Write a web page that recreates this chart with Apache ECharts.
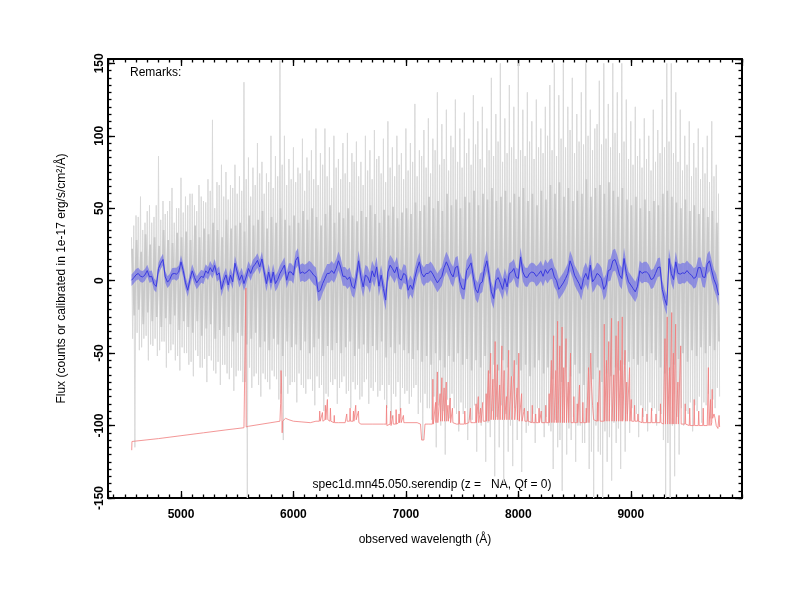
<!DOCTYPE html>
<html><head><meta charset="utf-8">
<script src="https://cdn.jsdelivr.net/npm/echarts@6/dist/echarts.min.js"></script>
<style>html,body{margin:0;background:#fff}#c{width:800px;height:600px}</style>
</head><body><div id="c"></div><script>
// smoothed flux (blue), 20 A grid from 4560 A
const waveStart = 4560, waveStep = 20;
const smoothFlux = [
0.3,2,4,5,3,2.6,4,7,2.6,3,-2.4,-4,8.4,12,14.6,2.6,-1,0.8,4.5,5,4.5,6,13,7,-1.5,-6.6,0.8,6.8,2.2,-1.5,0.8,3,2.2,6.8,5,9,6,10.5,3.8,5.4,-6,0,4,-3,3.8,-0.8,12,6,0.3,4,-2,2.6,8.4,5,9.5,11.4,14,9.5,15,6,-2,6,-1.5,6,
-2,0.8,5,7.7,10.7,0.3,6,6,3.8,14,16.4,5,6,5,6,7.7,6,3.8,2.6,-7.7,-6.6,-2,1.5,5,5,7,5,8.4,13.7,9.5,3,3,0.8,2.6,-3.8,-5.4,2.6,13.7,2.6,-4.3,3.8,2.6,-1.5,6.8,2.6,9.5,-3.8,3.8,-5.4,-13.4,6,10.7,8.4,5.4,9.5,1.5,0.3,5,3.8,-6.6,-3,-6,2.2,8.4,13,5,2.6,
5,5,6.8,4.5,1.5,-1.5,0.8,3,9,13,9.5,5,2.6,9,10,-0.8,-5.4,-6,7,9.5,12.3,2.6,-6,-8.4,-2,-0.8,8.4,13.7,3.8,-7.7,-12.3,0,2.2,-1.5,-6,1.5,-4.3,5,6,8.4,2.6,1.5,16.4,6,2.6,2.2,5,6,5.4,3,4.5,6.8,3,7.7,5,7.7,8.4,2.6,0,-6,-3.8,-1.5,1.5,5,13.7,9.5,3.8,
0.8,-2,-6,1.5,5,0.8,10.7,-0.8,1.5,5,3.8,1.5,-6,-3,7,7.7,13.7,14.6,10,3.8,1.5,15.3,5,-0.8,-3,-5.4,-7.7,-3.8,6.8,5,6,6,4.5,0.8,1.5,5,9,9.5,-6,-12.3,-17,15.3,5,0.8,13,5,4.5,5.4,5,7,5,3.8,1.5,2.6,9,9,2.6,2.2,11.4,13.7,6.8,0.8,-3,-10
];
// 1-sigma error per 200 A bin
const errBins = [4,4,4.5,4.5,5,5,5.5,6,6.5,6.5,7,7,6.5,6.5,7,7,7,6.5,7,7,7.5,7.5,7,6.5,7,7,7.5];
// raw flux (grey), 40 A grid: extreme, intermediate and core envelopes
const grayStart = 4560, grayStep = 40;
const grayHi = [30,45,58,40,52,44,86,55,48,64,50,71,
58,60,52,66,55,70,111,68,80,75,66,80,
72,137,85,78,95,82,74,100,86,152,100,84,
92,78,98,85,90,105,88,105,92,100,84,95,102,88,96,82,100,90,104,86,98,110,92,100,88,
105,95,122,90,104,112,98,130,108,118,100,125,105,116,98,128,110,120,105,140,115,150,112,135,120,
150,118,130,110,125,105,120,135,150,128,150,120,140,115,130,150,118,105,138,150,122,150,130,150,125,
110,120,98,112,100,118,104,125,150,150,130,118,100,110,95,105,92,100,110,80];
const grayLo = [-115,-48,-40,-55,-45,-52,-42,-60,-48,-55,-62,-50,
-58,-66,-52,-60,-70,-55,-64,-72,-58,-68,-76,-62,
-70,-150,-74,-64,-80,-68,-75,-66,-82,-110,-78,-70,
-84,-72,-78,-68,-86,-74,-90,-80,-72,-85,-70,-78,-88,-75,-82,-70,-85,-76,-80,-72,-88,-95,-80,-90,-78,
-85,-74,-92,-110,-88,-96,-115,-100,-120,-95,-88,-104,-92,-110,-96,-118,-100,-125,-108,-135,-115,-140,-118,-128,-110,
-132,-105,-98,-112,-95,-108,-100,-130,-115,-145,-120,-110,-125,-100,-112,-130,-150,-118,-150,-125,-138,-112,-130,-118,-105,
-96,-108,-94,-104,-90,-100,-92,-150,-150,-135,-120,-100,-92,-104,-90,-98,-86,-95,-88,-80];
const midHi = [38,44,35,48,40,52,42,46,55,40,50,47,
52,60,48,58,54,62,50,66,58,56,64,60,
62,70,58,66,74,60,68,64,72,80,66,70,
68,74,62,76,70,66,80,72,64,78,70,74,68,82,72,66,76,70,84,74,68,78,72,80,70,
76,82,72,86,78,74,90,80,84,76,92,82,78,88,80,94,84,78,90,86,96,82,88,92,84,
90,86,96,84,92,88,100,90,86,98,92,104,88,96,94,100,90,108,94,98,92,102,88,96,84,
80,86,78,84,76,82,88,92,96,88,82,76,80,72,78,70,74,68,72,60];
const midLo = [-40,-36,-46,-38,-44,-40,-48,-42,-50,-44,-52,-46,
-50,-56,-48,-60,-54,-52,-62,-56,-58,-64,-60,-66,
-62,-70,-60,-66,-72,-64,-70,-62,-68,-78,-66,-72,
-70,-64,-74,-68,-76,-66,-72,-78,-70,-68,-74,-66,-76,-70,-72,-80,-68,-74,-70,-76,-82,-72,-78,-70,-74,
-76,-80,-72,-84,-78,-88,-80,-86,-90,-82,-78,-92,-84,-88,-96,-86,-92,-84,-98,-90,-94,-86,-92,-100,-88,
-96,-90,-100,-92,-88,-98,-94,-104,-96,-110,-98,-102,-94,-100,-112,-98,-118,-100,-120,-104,-108,-98,-102,-96,-92,
-88,-92,-86,-90,-84,-88,-90,-110,-112,-100,-94,-88,-90,-84,-86,-80,-84,-78,-82,-74];
const coreHi = [22,28,20,32,25,30,24,35,28,26,33,30,
34,28,38,30,36,32,40,35,30,42,36,38,
40,34,45,38,42,48,36,44,40,50,42,38,
45,40,48,42,50,44,38,46,52,40,47,43,50,45,41,48,44,52,46,40,49,45,51,43,47,
50,46,54,48,52,58,50,55,48,60,52,56,50,58,54,62,52,60,56,64,55,58,62,54,60,
58,64,55,60,52,62,56,66,60,68,58,64,55,62,60,70,58,64,66,60,68,62,58,64,56,
52,58,50,56,48,55,52,60,62,58,54,50,56,48,52,46,50,44,48,40];
const coreLo = [-24,-20,-30,-22,-28,-25,-32,-26,-30,-24,-34,-28,
-32,-36,-28,-38,-33,-30,-40,-34,-38,-32,-42,-36,
-38,-44,-40,-36,-46,-42,-48,-40,-44,-52,-42,-46,
-44,-48,-42,-50,-46,-40,-52,-45,-48,-43,-50,-46,-42,-52,-47,-44,-50,-45,-48,-42,-53,-46,-50,-44,-48,
-50,-54,-48,-56,-52,-58,-50,-55,-60,-52,-56,-50,-58,-54,-62,-55,-60,-52,-64,-58,-62,-55,-60,-66,-58,
-62,-58,-66,-60,-55,-64,-60,-68,-62,-70,-60,-66,-58,-64,-72,-62,-68,-60,-70,-64,-66,-60,-62,-58,-56,
-54,-58,-52,-56,-50,-55,-60,-64,-62,-58,-54,-50,-56,-48,-52,-46,-50,-45,-48,-42];
// sky spectrum (red), [wavelength, flux]
const skyPts = [
[4562,-117],[4564,-111],[4800,-109],[5000,-107],[5200,-105],[5400,-103],[5560,-101.5],[5574,-101],[5577,-5],[5580,-101],[5600,-100.5],[5800,-98],[5880,-97],[5886,-85],[5890,-62],[5894,-70],[5897,-90],[5900,-105],[5903,-97],[5930,-95],[5960,-96],[6000,-97],[6150,-98],[6200,-97],
[6230,-97],[6234,-90],[6238,-97],[6255,-97],[6258,-91],[6262,-97],[6280,-96],[6284,-86],[6288,-96],[6300,-96],[6302,-82],[6306,-96],[6325,-97],[6329,-88],[6333,-97],[6360,-98],[6363,-93],[6366,-98],
[6400,-98],[6460,-98],[6470,-97],[6474,-92],[6478,-97],[6500,-97],[6504,-88],[6508,-97],[6530,-97],[6534,-90],[6538,-97],[6550,-96],[6554,-86],[6558,-96],[6575,-97],[6578,-90],[6582,-98],[6600,-99],[6700,-99],[6800,-99],[6825,-99],[6828,-86],[6831,-100],[6840,-100],
[6860,-99],[6864,-90],[6868,-100],[6880,-99],[6884,-93],[6888,-99],[6910,-99],[6913,-89],[6917,-99],[6935,-98],[6939,-92],[6943,-98],[6950,-98],[6954,-88],[6958,-98],[6975,-98],[6978,-93],[6982,-98],[7000,-98],[7100,-98],[7130,-99],[7140,-110],[7160,-110],[7170,-99],[7200,-99],
[7236,-99],[7240,-68],[7244,-99],[7260,-98],[7264,-84],[7268,-98],[7276,-98],[7280,-63],[7284,-98],[7300,-97],[7304,-78],[7308,-97],[7316,-97],[7320,-67],[7324,-97],[7335,-97],[7340,-74],[7344,-97],[7355,-97],[7359,-70],[7363,-97],[7370,-97],[7374,-86],[7378,-97],[7390,-98],[7394,-81],[7398,-98],[7410,-98],[7414,-88],[7418,-98],
[7450,-99],[7470,-99],[7474,-90],[7478,-99],[7520,-99],[7524,-90],[7528,-99],[7560,-98],[7570,-98],[7574,-88],[7578,-98],[7600,-98],[7620,-98],[7624,-85],[7628,-98],[7640,-98],[7644,-80],[7648,-98],[7660,-98],[7664,-88],[7668,-98],[7680,-97],[7684,-84],[7688,-97],
[7710,-97],[7714,-78],[7718,-97],[7730,-97],[7734,-62],[7738,-97],[7750,-96],[7754,-50],[7758,-96],[7770,-96],[7774,-68],[7778,-96],[7790,-96],[7794,-42],[7798,-96],[7810,-96],[7814,-58],[7818,-96],[7830,-96],[7834,-72],[7838,-96],[7850,-96],[7854,-45],[7858,-96],[7870,-96],[7874,-62],[7878,-96],[7890,-96],[7894,-80],[7898,-96],[7910,-96],[7914,-48],[7918,-96],[7935,-96],[7939,-66],[7943,-96],[7960,-96],[7964,-55],[7968,-96],[7985,-96],[7989,-74],[7993,-96],[8000,-97],[8004,-50],[8008,-97],[8025,-97],[8029,-78],[8033,-97],[8050,-97],[8054,-88],[8058,-97],
[8080,-97],[8084,-90],[8088,-97],[8120,-98],[8124,-86],[8128,-98],[8150,-98],[8154,-92],[8158,-98],[8180,-98],[8184,-88],[8188,-98],[8200,-98],[8204,-90],[8208,-98],[8240,-98],[8244,-86],[8248,-98],[8270,-98],[8274,-78],[8278,-98],
[8290,-98],[8294,-55],[8298,-98],[8310,-98],[8314,-38],[8318,-98],[8330,-98],[8334,-62],[8338,-98],[8345,-98],[8349,-28],[8353,-98],[8365,-98],[8369,-45],[8373,-98],[8385,-98],[8389,-32],[8393,-98],[8400,-98],[8404,-60],[8408,-98],[8420,-98],[8424,-40],[8428,-98],[8440,-98],[8444,-70],[8448,-98],[8460,-98],[8464,-50],[8468,-98],
[8490,-98],[8494,-80],[8498,-98],[8520,-98],[8524,-85],[8528,-98],[8540,-98],[8544,-72],[8548,-98],[8570,-98],[8574,-84],[8578,-98],[8600,-98],[8604,-88],[8608,-98],[8620,-98],[8624,-60],[8628,-98],[8640,-98],[8644,-50],[8650,-70],[8660,-86],[8670,-96],[8680,-97],
[8700,-97],[8704,-84],[8708,-97],[8720,-97],[8724,-62],[8728,-97],[8760,-97],[8764,-30],[8768,-97],[8780,-97],[8784,-55],[8788,-97],[8800,-97],[8804,-42],[8808,-97],[8825,-97],[8829,-26],[8833,-97],[8845,-97],[8849,-65],[8853,-97],[8865,-97],[8869,-38],[8873,-97],[8885,-97],[8889,-28],[8893,-97],[8905,-97],[8909,-55],[8913,-97],[8920,-97],[8924,-25],[8928,-97],[8945,-97],[8949,-48],[8953,-97],[8960,-97],[8964,-70],[8968,-97],[8985,-97],[8989,-60],[8993,-97],[9000,-97],[9004,-82],[9008,-97],
[9030,-97],[9034,-86],[9038,-97],[9060,-97],[9064,-92],[9068,-97],[9100,-98],[9104,-88],[9108,-98],[9140,-98],[9144,-92],[9148,-98],[9180,-98],[9184,-88],[9188,-98],[9220,-98],[9224,-92],[9228,-98],[9260,-98],[9264,-85],[9268,-98],[9290,-99],
[9300,-99],[9304,-40],[9308,-99],[9320,-99],[9324,-25],[9328,-99],[9340,-99],[9344,-60],[9348,-99],[9360,-99],[9364,-22],[9368,-99],[9375,-99],[9379,-50],[9383,-99],[9395,-99],[9399,-30],[9403,-99],[9415,-99],[9419,-70],[9423,-99],[9440,-99],[9444,-45],[9448,-99],
[9480,-99],[9484,-85],[9488,-99],[9520,-100],[9524,-88],[9528,-100],[9560,-100],[9564,-82],[9568,-100],[9600,-100],[9604,-90],[9608,-100],[9640,-100],[9644,-88],[9648,-100],[9680,-100],[9690,-60],[9696,-100],[9705,-100],[9709,-82],[9713,-100],[9720,-98],[9724,-75],[9728,-95],[9740,-92],[9750,-95],[9760,-100],[9775,-102],[9780,-101],[9785,-93],[9790,-101]
];
const xName = 'observed wavelength (Å)';
const yName = 'Flux (counts or calibrated in 1e-17 erg/s/cm²/Å)';
const remarkText = 'Remarks:';
const specTitle = 'spec1d.mn45.050.serendip (z =   NA, Qf = 0)';

const FONT = '"Liberation Sans", Arial, Helvetica, sans-serif';
const wave = smoothFlux.map((_, k) => waveStart + k * waveStep);
const errAt = k => errBins[Math.min(errBins.length - 1, Math.floor(k / 10))];
const blue = smoothFlux.map((v, k) => [wave[k], v]);
const bandUp = smoothFlux.map((v, k) => [wave[k], v + errAt(k)]);
const bandLow = smoothFlux.map((v, k) => [wave[k], v - errAt(k)]);
const gw = i => grayStart + grayStep * i;
const q = grayStep / 4;
const grayOuter = [], grayCore = [];
grayHi.forEach((h, i) => {
  grayOuter.push([gw(i), h], [gw(i) + q, midLo[i]], [gw(i) + 2 * q, midHi[i]], [gw(i) + 3 * q, grayLo[i]]);
  grayCore.push([gw(i) + q / 2, coreHi[i]], [gw(i) + 2.5 * q, coreLo[i]]);
});

function bandSeries(top, bot, fill, z) {
  return {
    type: 'custom', coordinateSystem: 'cartesian2d', clip: true, silent: true, z: z,
    data: [[top[0][0], top[0][1]]],
    renderItem: (params, api) => {
      const pts = top.map(p => api.coord(p)).concat(bot.slice().reverse().map(p => api.coord(p)));
      return {type: 'polygon', shape: {points: pts}, style: {fill: fill, stroke: null}};
    }
  };
}

const XMIN = 4351, XMAX = 9989, YMIN = -150, YMAX = 153;
const lbl = {fontFamily: FONT, fontWeight: 'bold', fontSize: 12, color: '#000', formatter: v => String(v)};
function xAx(pos, major, withLabel) {
  return {
    type: 'value', position: pos, min: XMIN, max: XMAX, splitNumber: major ? 5 : 56,
    axisLine: {show: major, onZero: false, lineStyle: {color: '#000', width: 2}},
    axisTick: {show: true, inside: true, length: major ? 7 : 3.5, lineStyle: {color: '#000', width: 1.3}},
    axisLabel: withLabel ? Object.assign({show: true, margin: 11, showMinLabel: false, showMaxLabel: false}, lbl) : {show: false},
    splitLine: {show: false},
    name: withLabel ? xName : '', nameLocation: 'middle', nameGap: 36,
    nameTextStyle: {fontFamily: FONT, fontSize: 12, color: '#000'}
  };
}
function yAx(pos, major, withLabel) {
  const o = {
    type: 'value', position: pos, min: YMIN, max: YMAX,
    axisLine: {show: major, onZero: false, lineStyle: {color: '#000', width: 2}},
    axisTick: {show: true, inside: true, length: major ? 7 : 3.5, lineStyle: {color: '#000', width: 1.3}},
    axisLabel: withLabel ? Object.assign({show: true, rotate: 90, margin: 8, showMinLabel: true, showMaxLabel: false, verticalAlign: 'middle'}, lbl) : {show: false},
    splitLine: {show: false},
    name: withLabel ? yName : '', nameLocation: 'middle', nameGap: 40,
    nameTextStyle: {fontFamily: FONT, fontSize: 12, color: '#000'}
  };
  if (major) o.interval = 50; else o.splitNumber = 60;
  return o;
}
const chart = echarts.init(document.getElementById('c'), null, {renderer: 'canvas'});
chart.setOption({
  animation: false,
  backgroundColor: '#fff',
  grid: {left: 108, right: 58, top: 59, bottom: 102, containLabel: false},
  xAxis: [xAx('bottom', true, true), xAx('bottom', false, false), xAx('top', true, false), xAx('top', false, false)],
  yAxis: [yAx('left', true, true), yAx('left', false, false), yAx('right', true, false), yAx('right', false, false)],
  graphic: [
    {type: 'text', x: 130, y: 67, style: {text: remarkText, font: '12px ' + FONT, fill: '#000'}},
    {type: 'text', x: 432, y: 485, style: {text: specTitle, font: '12px ' + FONT, fill: '#000', textAlign: 'center', textVerticalAlign: 'middle'}}
  ],
  series: [
    {type: 'line', data: grayOuter, symbol: 'none', silent: true, z: 1, lineStyle: {color: '#d9d9d9', width: 1.0}},
    {type: 'line', data: grayCore, symbol: 'none', silent: true, z: 2, lineStyle: {color: '#c9c9c9', width: 1.8}},
    {type: 'line', data: skyPts, symbol: 'none', silent: true, z: 3, lineStyle: {color: '#f07c7c', width: 0.8}},
    bandSeries(bandUp, bandLow, 'rgba(110,110,230,0.68)', 4),
    {type: 'line', data: blue, symbol: 'none', silent: true, z: 5, lineStyle: {color: '#3a3ae0', width: 1}}
  ]
});
</script></body></html>
